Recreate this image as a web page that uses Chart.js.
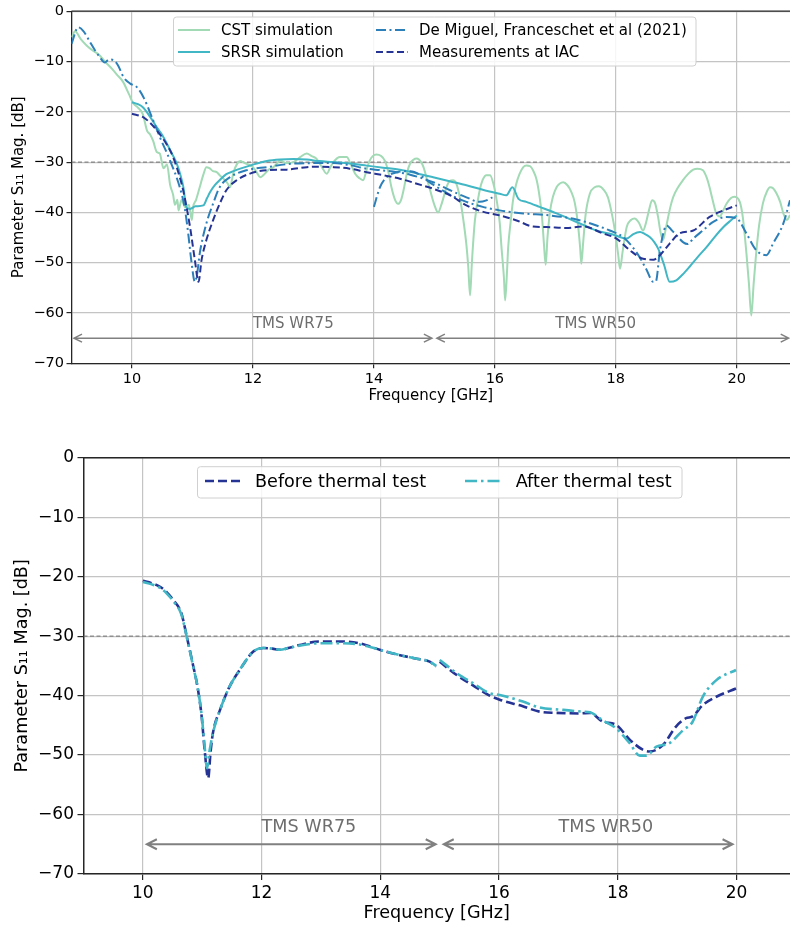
<!DOCTYPE html>
<html>
<head>
<meta charset="utf-8">
<script src="https://cdn.jsdelivr.net/npm/chart.js@4.4.1/dist/chart.umd.min.js"></script>
<style>
  body { margin: 0; background: #fff; width: 790px; height: 927px; overflow: hidden; position: relative; }
  canvas { position: absolute; left: 0; }
  #topChart { top: 0; }
  #bottomChart { top: 415px; }
</style>
</head>
<body>
<canvas id="topChart" width="790" height="415"></canvas>
<canvas id="bottomChart" width="790" height="512"></canvas>
<script>
// ---- data ----
const freqTicks = [10, 12, 14, 16, 18, 20];
const levelTicks = [-70, -60, -50, -40, -30, -20, -10, 0];
const thresholdFreq = [9, 21];
const thresholdLevel = [-30, -30];

const bandNames = ['TMS WR75', 'TMS WR50'];
const bandLabelFreq = [12, 17];
const topBandFrom = [9, 15];
const topBandTo = [15, 20.9];
const bottomBandFrom = [10, 15];
const bottomBandTo = [15, 20];
const bandArrowLevel = -65;
const bandLabelLevel = -63;

// CST simulation
const cstFreq = [9.0, 9.06, 9.15, 9.25, 9.35, 9.45, 9.55, 9.65, 9.75, 9.85, 9.95, 10.02, 10.1, 10.18, 10.25, 10.3, 10.35, 10.41, 10.46, 10.52, 10.58, 10.63, 10.68, 10.71, 10.75, 10.77, 10.82, 10.88, 10.94, 10.99, 11.01, 11.06, 11.12, 11.18, 11.23, 11.28, 11.34, 11.4, 11.45, 11.52, 11.58, 11.62, 11.68, 11.74, 11.79, 11.86, 11.93, 12.0, 12.06, 12.12, 12.18, 12.26, 12.34, 12.4, 12.45, 12.55, 12.67, 12.78, 12.89, 12.97, 13.05, 13.14, 13.22, 13.28, 13.33, 13.44, 13.55, 13.62, 13.69, 13.76, 13.82, 13.88, 13.93, 14.04, 14.12, 14.18, 14.24, 14.29, 14.35, 14.4, 14.45, 14.49, 14.55, 14.6, 14.71, 14.78, 14.82, 14.88, 14.93, 15.0, 15.06, 15.12, 15.2, 15.25, 15.31, 15.36, 15.42, 15.48, 15.53, 15.56, 15.59, 15.62, 15.67, 15.75, 15.8, 15.86, 15.92, 15.98, 16.03, 16.08, 16.11, 16.15, 16.17, 16.2, 16.22, 16.26, 16.3, 16.35, 16.41, 16.47, 16.52, 16.58, 16.63, 16.69, 16.74, 16.78, 16.81, 16.84, 16.87, 16.91, 16.96, 17.02, 17.07, 17.13, 17.2, 17.26, 17.32, 17.37, 17.41, 17.43, 17.46, 17.5, 17.57, 17.65, 17.72, 17.8, 17.87, 17.93, 17.99, 18.04, 18.07, 18.11, 18.18, 18.25, 18.31, 18.38, 18.45, 18.5, 18.55, 18.6, 18.65, 18.7, 18.74, 18.78, 18.83, 18.9, 18.95, 19.03, 19.11, 19.2, 19.28, 19.35, 19.44, 19.5, 19.55, 19.6, 19.66, 19.72, 19.78, 19.83, 19.9, 19.96, 20.05, 20.1, 20.16, 20.2, 20.24, 20.28, 20.32, 20.37, 20.43, 20.5, 20.55, 20.6, 20.66, 20.72, 20.77, 20.83, 20.88];
const cstS11 = [-5.2, -4.0, -5.5, -6.8, -7.8, -8.6, -10.0, -11.2, -12.6, -14.0, -16.5, -18.3, -19.2, -20.5, -23.8, -24.5, -25.8, -28.0, -28.3, -31.2, -30.5, -34.5, -36.5, -38.5, -37.5, -39.6, -37.5, -39.0, -38.5, -41.5, -39.0, -37.5, -35.0, -32.5, -31.0, -31.2, -31.8, -32.0, -32.6, -33.4, -34.2, -35.0, -32.0, -30.3, -29.8, -30.2, -30.5, -31.0, -32.0, -33.0, -32.5, -31.5, -31.0, -30.2, -29.7, -30.2, -30.0, -29.0, -28.3, -28.8, -29.3, -31.0, -32.3, -31.0, -30.0, -29.0, -29.0, -30.5, -32.3, -33.2, -33.6, -31.5, -29.7, -28.5, -28.8, -29.7, -32.0, -35.0, -37.5, -38.3, -37.5, -35.6, -32.0, -30.3, -29.3, -30.0, -31.0, -33.5, -35.6, -38.5, -40.0, -38.3, -35.0, -33.8, -33.6, -34.2, -37.0, -41.6, -46.5, -50.8, -56.5, -50.0, -41.6, -35.6, -33.5, -32.6, -32.6, -34.5, -37.6, -42.0, -47.0, -53.0, -57.5, -52.0, -47.0, -42.0, -37.6, -34.5, -32.3, -31.0, -30.7, -30.8, -31.6, -33.5, -36.9, -41.0, -46.0, -50.4, -45.0, -40.0, -36.9, -35.0, -34.3, -34.0, -34.6, -35.8, -38.0, -42.0, -47.0, -50.2, -46.0, -40.5, -36.3, -35.0, -34.8, -35.5, -37.0, -40.0, -44.0, -48.5, -51.2, -48.0, -42.9, -41.5, -41.2, -42.0, -43.6, -42.0, -39.5, -37.6, -38.2, -41.0, -44.0, -45.5, -43.0, -39.0, -36.9, -35.0, -33.6, -32.3, -31.5, -31.3, -31.6, -33.0, -35.0, -37.5, -40.2, -40.8, -39.5, -38.3, -37.2, -36.9, -37.9, -41.0, -48.2, -54.0, -60.5, -54.0, -48.2, -42.5, -38.3, -35.8, -35.0, -35.2, -36.3, -38.0, -40.2, -41.5, -40.5];

// SRSR simulation
const srsrFreq = [10.0, 10.1, 10.18, 10.3, 10.41, 10.5, 10.58, 10.66, 10.74, 10.8, 10.85, 10.9, 10.96, 11.05, 11.18, 11.24, 11.29, 11.37, 11.45, 11.56, 11.68, 11.79, 12.0, 12.23, 12.45, 12.67, 12.89, 13.1, 13.33, 13.6, 13.88, 14.15, 14.43, 14.7, 14.98, 15.25, 15.53, 15.8, 16.08, 16.19, 16.29, 16.39, 16.52, 16.74, 17.02, 17.35, 17.68, 17.95, 18.18, 18.29, 18.4, 18.48, 18.56, 18.63, 18.7, 18.8, 18.89, 19.0, 19.1, 19.22, 19.36, 19.5, 19.64, 19.78, 19.9, 20.0];
const srsrS11 = [-18.1, -18.5, -19.1, -21.0, -23.1, -24.6, -26.4, -28.3, -30.3, -32.5, -35.0, -39.0, -39.3, -38.8, -38.6, -37.2, -36.0, -34.6, -33.6, -32.4, -31.8, -31.3, -30.5, -29.8, -29.5, -29.4, -29.5, -29.8, -30.0, -30.3, -30.7, -31.1, -31.5, -32.2, -33.0, -33.8, -34.6, -35.5, -36.3, -36.6, -35.0, -37.3, -37.9, -38.9, -40.2, -41.9, -43.6, -44.4, -45.2, -44.3, -43.9, -44.3, -44.9, -45.8, -47.2, -50.5, -53.8, -53.5, -52.4, -50.8, -48.8, -46.9, -44.8, -42.9, -41.6, -40.6];

// De Miguel, Franceschet et al (2021): two measured bands
const demigLowFreq = [9.0, 9.11, 9.2, 9.3, 9.4, 9.47, 9.55, 9.62, 9.69, 9.77, 9.86, 9.97, 10.08, 10.19, 10.33, 10.46, 10.63, 10.79, 10.87, 10.93, 10.98, 11.04, 11.08, 11.12, 11.23, 11.34, 11.45, 11.62, 11.9, 12.23, 12.67, 13.1, 13.33, 13.6, 13.88, 14.1, 14.38, 14.6, 14.98, 15.26, 15.53, 15.75, 15.86, 15.96];
const demigLowS11 = [-6.5, -3.2, -4.0, -6.0, -8.0, -9.2, -10.2, -9.6, -9.7, -10.8, -13.1, -14.4, -15.1, -17.1, -21.1, -25.0, -29.7, -35.0, -39.0, -44.2, -49.5, -53.8, -52.0, -48.2, -42.2, -38.3, -35.0, -33.0, -31.6, -31.0, -30.3, -30.2, -30.2, -30.6, -31.3, -31.6, -32.0, -32.5, -34.0, -35.6, -37.0, -37.9, -37.6, -37.0];
const demigHighFreq = [14.0, 14.1, 14.21, 14.38, 14.6, 14.98, 15.26, 15.53, 15.8, 16.08, 16.47, 16.91, 17.35, 17.68, 17.9, 18.12, 18.34, 18.5, 18.62, 18.66, 18.73, 18.8, 18.84, 18.92, 19.0, 19.11, 19.19, 19.28, 19.44, 19.61, 19.83, 20.0, 20.16, 20.32, 20.49, 20.6, 20.77, 20.88];
const demigHighS11 = [-38.9, -35.0, -33.0, -32.0, -31.8, -34.5, -36.5, -37.9, -38.9, -39.6, -40.2, -40.6, -41.4, -42.6, -43.6, -44.9, -47.9, -51.2, -53.8, -53.8, -47.5, -43.5, -42.6, -43.5, -44.5, -45.9, -46.3, -45.2, -43.6, -41.9, -40.9, -41.2, -44.2, -47.5, -48.5, -46.2, -42.2, -37.6];

// Measurements at IAC
const iacFreq = [10.0, 10.19, 10.3, 10.41, 10.57, 10.68, 10.79, 10.85, 10.96, 11.04, 11.1, 11.15, 11.23, 11.34, 11.45, 11.56, 11.73, 11.95, 12.23, 12.56, 12.89, 13.1, 13.33, 13.6, 13.88, 14.15, 14.43, 14.71, 14.98, 15.26, 15.53, 15.81, 16.08, 16.36, 16.63, 16.85, 17.18, 17.46, 17.79, 18.01, 18.23, 18.45, 18.62, 18.73, 18.89, 19.05, 19.28, 19.55, 19.78, 20.0];
const iacS11 = [-20.4, -21.1, -22.2, -23.7, -26.4, -29.0, -33.0, -35.8, -42.9, -49.5, -53.8, -49.5, -45.5, -41.6, -38.3, -35.6, -33.6, -32.3, -31.6, -31.5, -31.0, -30.9, -31.0, -31.3, -32.0, -32.6, -33.3, -34.3, -35.3, -36.6, -38.6, -39.9, -40.6, -41.6, -42.8, -42.9, -43.1, -42.8, -44.2, -45.2, -47.5, -49.2, -49.4, -48.5, -46.2, -44.2, -43.6, -40.9, -39.6, -38.6];

// thermal test (null = gap between the two bands)
const beforeFreq = [10.0, 10.15, 10.29, 10.4, 10.51, 10.65, 10.74, 10.85, 10.92, 10.99, 11.04, 11.1, 11.14, 11.18, 11.3, 11.46, 11.63, 11.86, 12.03, 12.18, 12.31, 12.45, 12.64, 12.98, 13.32, 13.65, 13.99, 14.33, 14.61, 14.83, 14.94, 14.97, 15.0, 15.28, 15.56, 15.84, 16.01, 16.4, 16.68, 16.96, 17.36, 17.53, 17.75, 17.97, 18.2, 18.42, 18.54, 18.76, 18.98, 19.15, 19.26, 19.43, 19.66, 19.99];
const beforeS11 = [-20.7, -21.1, -21.7, -22.6, -23.9, -26.2, -30.1, -35.1, -38.5, -43.5, -49.1, -53.9, -49.5, -46.3, -42.4, -38.5, -35.7, -32.6, -32.0, -32.1, -32.3, -32.0, -31.5, -30.9, -30.9, -31.2, -32.3, -33.2, -33.8, -34.3, -35.1, null, -34.3, -36.5, -38.3, -40.0, -40.7, -41.8, -42.7, -42.9, -43.0, -42.9, -44.4, -44.9, -47.4, -49.1, -49.4, -48.3, -45.2, -43.8, -43.5, -41.6, -40.2, -38.8];
const afterFreq = [10.0, 10.15, 10.29, 10.4, 10.51, 10.65, 10.74, 10.85, 10.92, 10.99, 11.04, 11.08, 11.12, 11.18, 11.3, 11.46, 11.63, 11.86, 12.03, 12.18, 12.31, 12.45, 12.64, 12.98, 13.32, 13.65, 13.99, 14.33, 14.61, 14.83, 14.94, 14.97, 15.0, 15.28, 15.56, 15.84, 16.01, 16.4, 16.68, 17.08, 17.41, 17.53, 17.75, 17.97, 18.2, 18.37, 18.48, 18.65, 18.87, 19.1, 19.26, 19.43, 19.66, 19.99];
const afterS11 = [-20.9, -21.3, -21.9, -22.8, -24.1, -26.4, -30.2, -35.2, -38.5, -43.3, -48.5, -52.2, -49.5, -46.3, -42.4, -38.5, -35.7, -32.6, -32.0, -32.1, -32.3, -32.0, -31.6, -31.2, -31.2, -31.4, -32.3, -33.2, -33.8, -34.3, -35.0, null, -34.0, -36.2, -37.9, -39.6, -39.9, -41.0, -42.0, -42.4, -42.7, -42.8, -44.2, -45.5, -48.0, -50.1, -50.1, -48.6, -48.0, -45.8, -44.4, -40.2, -37.4, -35.7];

const COL_CST = '#a1dab4';
const COL_SRSR = '#41b6c4';
const COL_DEMIG = '#2c7fb8';
const COL_IAC = '#253494';
const FONT = "'DejaVu Sans', sans-serif";

const pts = (xs, ys) => xs.map((x, i) => ({ x, y: ys[i] }));
const minus = (v) => String(v).replace('-', '\u2212');

function line(label, xs, ys, color, width, dash, order, inLegend = true) {
  return {
    label, data: pts(xs, ys), borderColor: color, backgroundColor: color,
    borderWidth: width, borderDash: dash, pointRadius: 0, fill: false,
    cubicInterpolationMode: 'monotone', spanGaps: false, order, inLegend,
  };
}

// draws top spine, band arrows/labels and the in-axes legend
const extras = {
  id: 'extras',
  afterDatasetsDraw(chart, args, opts) {
    const { ctx, chartArea: a, scales: { x, y } } = chart;
    ctx.save();
    ctx.strokeStyle = '#262626';
    ctx.lineWidth = opts.spine;
    ctx.beginPath();
    ctx.moveTo(a.left, a.top);
    ctx.lineTo(a.right, a.top);
    ctx.stroke();

    // band arrows <->
    const ay = y.getPixelForValue(bandArrowLevel);
    ctx.strokeStyle = '#808080';
    ctx.lineWidth = opts.arrowWidth;
    opts.bandFrom.forEach((f, i) => {
      const x1 = x.getPixelForValue(f) + opts.shrink;
      const x2 = x.getPixelForValue(opts.bandTo[i]) - opts.shrink;
      const h = opts.head;
      ctx.beginPath();
      ctx.moveTo(x1, ay); ctx.lineTo(x2, ay);
      ctx.moveTo(x1 + h, ay - h * 0.5); ctx.lineTo(x1, ay); ctx.lineTo(x1 + h, ay + h * 0.5);
      ctx.moveTo(x2 - h, ay - h * 0.5); ctx.lineTo(x2, ay); ctx.lineTo(x2 - h, ay + h * 0.5);
      ctx.stroke();
    });
    ctx.fillStyle = '#6e6e6e';
    ctx.font = opts.fontSize + 'px ' + FONT;
    ctx.textAlign = 'left';
    ctx.textBaseline = 'alphabetic';
    bandNames.forEach((name, i) => {
      ctx.fillText(name, x.getPixelForValue(bandLabelFreq[i]), y.getPixelForValue(bandLabelLevel));
    });

    // legend
    const [bx0, by0, bx1, by1] = opts.legendBox;
    ctx.fillStyle = 'rgba(255,255,255,0.85)';
    ctx.strokeStyle = '#d0d0d0';
    ctx.lineWidth = 1;
    ctx.beginPath();
    ctx.roundRect(bx0, by0, bx1 - bx0, by1 - by0, 3);
    ctx.fill();
    ctx.stroke();
    const shown = chart.data.datasets.filter((d) => d.inLegend);
    ctx.textBaseline = 'middle';
    shown.forEach((d, i) => {
      const [hx, hy, hl, tx] = opts.legendSlots[i];
      ctx.strokeStyle = d.borderColor;
      ctx.lineWidth = d.borderWidth;
      ctx.setLineDash(d.borderDash);
      ctx.beginPath();
      ctx.moveTo(hx, hy); ctx.lineTo(hx + hl, hy);
      ctx.stroke();
      ctx.setLineDash([]);
      ctx.fillStyle = '#000';
      ctx.fillText(d.label, tx, hy + 1);
    });
    ctx.restore();
  },
};

function axes(cfg) {
  return {
    x: {
      type: 'linear', min: 9, max: cfg.xMax,
      afterBuildTicks: (s) => { s.ticks = freqTicks.map((v) => ({ value: v })); },
      afterFit: (s) => { s.height = cfg.xHeight; },
      ticks: { color: '#000', font: { family: FONT, size: cfg.tick }, padding: cfg.tickPad, maxRotation: 0 },
      grid: { color: '#c4c4c4', lineWidth: 1.2, tickColor: '#262626', tickLength: cfg.tickLen, tickWidth: 1.2 },
      border: { color: '#262626', width: cfg.spine },
      title: { display: true, text: 'Frequency [GHz]', color: '#000', font: { family: FONT, size: cfg.label }, padding: { top: 0, bottom: 0 } },
    },
    y: {
      type: 'linear', min: -70, max: 0,
      afterBuildTicks: (s) => { s.ticks = levelTicks.map((v) => ({ value: v })); },
      afterFit: (s) => { s.width = cfg.yWidth; },
      ticks: { color: '#000', font: { family: FONT, size: cfg.tick }, padding: cfg.tickPad, callback: (v) => minus(v) },
      grid: { color: '#c4c4c4', lineWidth: 1.2, tickColor: '#262626', tickLength: cfg.tickLen, tickWidth: 1.2 },
      border: { color: '#262626', width: cfg.spine },
      title: { display: true, text: 'Parameter S\u2081\u2081 Mag. [dB]', color: '#000', font: { family: FONT, size: cfg.label }, padding: { top: cfg.yTitlePad, bottom: 0 } },
    },
  };
}

// ---- top panel ----
new Chart(document.getElementById('topChart'), {
  type: 'line',
  data: {
    datasets: [
      line('CST simulation', cstFreq, cstS11, COL_CST, 2, [], 5),
      line('SRSR simulation', srsrFreq, srsrS11, COL_SRSR, 2, [], 4),
      line('De Miguel, Franceschet et al (2021)', demigLowFreq, demigLowS11, COL_DEMIG, 2, [10, 3.5, 2, 3.5], 3),
      line('Measurements at IAC', iacFreq, iacS11, COL_IAC, 2, [7, 3.5], 1),
      line('De Miguel high band', demigHighFreq, demigHighS11, COL_DEMIG, 2, [10, 3.5, 2, 3.5], 2, false),
      { ...line('threshold', thresholdFreq, thresholdLevel, '#707070', 1, [4, 2.5], 9, false), cubicInterpolationMode: 'default' },
    ],
  },
  options: {
    responsive: false, animation: false, devicePixelRatio: 1,
    layout: { padding: { left: 0, top: 10.5, right: 0, bottom: 10 } },
    plugins: {
      legend: { display: false }, tooltip: { enabled: false },
      extras: {
        spine: 1.3, arrowWidth: 1.5, shrink: 2.5, head: 8, fontSize: 15,
        bandFrom: topBandFrom, bandTo: topBandTo,
        legendBox: [173.5, 17, 696, 66],
        legendSlots: [[178, 30, 32, 221], [178, 52, 32, 221], [376, 30, 32, 419], [376, 52, 32, 419]],
      },
    },
    scales: axes({ xMax: 20.88, xHeight: 41.7, yWidth: 71.5, tick: 14.5, label: 15, tickPad: 2.5, tickLen: 5, spine: 1.3, yTitlePad: 10 }),
  },
  plugins: [extras],
});

// ---- bottom panel ----
new Chart(document.getElementById('bottomChart'), {
  type: 'line',
  data: {
    datasets: [
      line('Before thermal test', beforeFreq, beforeS11, COL_IAC, 2.6, [9, 4], 2),
      line('After thermal test', afterFreq, afterS11, COL_SRSR, 2.6, [12, 4, 2.5, 4], 1),
      { ...line('threshold', thresholdFreq, thresholdLevel, '#707070', 1, [4, 2.5], 9, false), cubicInterpolationMode: 'default' },
    ],
  },
  options: {
    responsive: false, animation: false, devicePixelRatio: 1,
    layout: { padding: { left: 0, top: 42.7, right: 0, bottom: 3.5 } },
    plugins: {
      legend: { display: false }, tooltip: { enabled: false },
      extras: {
        spine: 1.5, arrowWidth: 2, shrink: 4, head: 10, fontSize: 17.6,
        bandFrom: bottomBandFrom, bandTo: bottomBandTo,
        legendBox: [197.5, 51.7, 682, 83],
        legendSlots: [[205, 66, 35, 255], [465, 66, 36, 515.7]],
      },
    },
    scales: axes({ xMax: 20.9, xHeight: 49.5, yWidth: 83.5, tick: 17, label: 17.6, tickPad: 3.5, tickLen: 6, spine: 1.5, yTitlePad: 11.5 }),
  },
  plugins: [extras],
});
</script>
</body>
</html>
